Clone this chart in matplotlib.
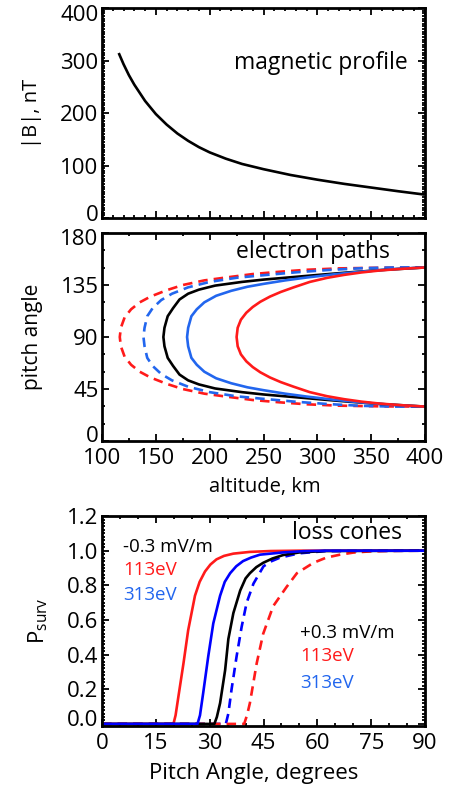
import matplotlib
matplotlib.use("Agg")
import matplotlib.pyplot as plt
import matplotlib.transforms as mtransforms
from matplotlib.ticker import AutoMinorLocator, FormatStrFormatter

plt.rcParams['font.family'] = ['Open Sans', 'DejaVu Sans']
plt.rcParams['mathtext.fontset'] = 'custom'
plt.rcParams['mathtext.rm'] = 'Open Sans'
plt.rcParams['mathtext.it'] = 'Open Sans'

# magnetic field profile
alt_b = [116, 120, 125, 130, 140, 150, 160, 170, 180, 190, 200, 215, 230, 250, 275, 300, 325, 350, 375, 398]
b_nt = [312, 293, 272, 254, 223, 198, 178, 161, 147, 135, 125, 113, 103, 93, 82, 73, 65, 58, 51, 45]

# electron paths: altitude (km) and pitch angle (deg), upper end -> mirror point -> lower end
path_red_dash_alt = [400, 360, 320, 290, 265, 240, 215, 195, 175, 160, 145, 135, 127, 121, 117.5, 116.5,
                     117.5, 121, 127, 135, 145, 160, 175, 195, 215, 240, 265, 290, 320, 360, 400]
path_red_dash_pa = [150.2, 150.0, 149.4, 148.2, 146.5, 144.5, 141.5, 139, 135, 130.5, 125, 120, 114, 107, 98, 90,
                    82, 73, 66, 60, 55, 49.5, 45, 41, 38.5, 35.5, 33.5, 31.8, 30.6, 30.0, 29.8]
path_blue_dash_alt = [400, 370, 340, 310, 280, 250, 225, 200, 180, 165, 155, 147, 142, 139.5, 138.5,
                      139.5, 142, 147, 155, 165, 180, 200, 225, 250, 280, 310, 340, 370, 400]
path_blue_dash_pa = [150.3, 150.2, 149.5, 148, 146, 143.5, 141.3, 137.7, 133, 127.5, 122, 115, 108, 98, 90,
                     82, 72, 65, 58, 52.5, 47, 42.3, 38.7, 36.5, 34, 32, 30.5, 29.8, 29.7]
path_black_alt = [400, 360, 330, 300, 275, 250, 230, 205, 190, 180, 172, 166, 161, 158, 157,
                  158, 161, 166, 172, 180, 190, 205, 230, 250, 275, 300, 330, 360, 400]
path_black_pa = [150.2, 148, 146, 143.7, 141.7, 139.7, 137.7, 134.5, 131, 127.5, 122.5, 115, 108, 98, 90,
                 82, 72, 65, 57.5, 52.5, 49, 45.5, 42.3, 40.3, 38.3, 36.3, 34, 32, 29.8]
path_blue_alt = [400, 370, 340, 315, 290, 270, 250, 235, 220, 206, 195, 188, 183, 180, 179,
                 180, 183, 188, 195, 206, 220, 235, 250, 270, 290, 315, 340, 370, 400]
path_blue_pa = [150.3, 148.8, 146.5, 144.2, 141.5, 139, 136, 133.5, 130, 125.7, 120, 114, 108, 98, 90,
                82, 72, 66, 60, 54.3, 50, 46.5, 44, 41, 38.5, 35.8, 33.5, 31.2, 29.7]
path_red_alt = [400, 378, 358, 341, 325, 309, 293, 278, 266, 256, 247, 240, 234, 229, 226, 225,
                226, 229, 234, 240, 247, 256, 266, 278, 293, 309, 325, 341, 358, 378, 400]
path_red_pa = [150.2, 149, 147.6, 145.9, 143.8, 141.2, 137.7, 133, 129, 125, 120.5, 116, 111, 105, 98, 90,
               82, 75, 69, 64, 59.5, 55, 51, 47, 42.3, 38.8, 36.2, 34.1, 32.4, 31, 29.8]

# survival probability vs pitch angle
pa_red = [0, 19.9, 20.5, 21.3, 22.7, 24.0, 25.9, 27.2, 28.7, 30.2, 31.9, 34, 36.6, 41.2, 47, 55, 90]
p_red = [0, 0, 0.05, 0.16, 0.35, 0.54, 0.74, 0.82, 0.88, 0.92, 0.95, 0.97, 0.983, 0.993, 0.998, 1, 1]
pa_blue = [0, 26.6, 27.3, 28.2, 29.6, 31.0, 32.9, 34.2, 35.7, 37.4, 39.3, 41.5, 44.0, 50.5, 56, 62, 90]
p_blue = [0, 0, 0.05, 0.18, 0.39, 0.58, 0.74, 0.82, 0.87, 0.91, 0.94, 0.96, 0.977, 0.99, 0.997, 1, 1]
pa_black = [0, 31.3, 32.0, 32.9, 34.3, 35.2, 36.6, 38.5, 40.0, 41.2, 43, 44.9, 47.5, 50.5, 55, 62, 90]
p_black = [0, 0, 0.04, 0.12, 0.31, 0.49, 0.64, 0.77, 0.84, 0.87, 0.905, 0.93, 0.955, 0.975, 0.99, 0.998, 1]
pa_blue_dash = [0, 34.5, 35.2, 36.1, 37.5, 38.9, 40.3, 42.2, 45.0, 47.3, 49.6, 55, 62, 90]
p_blue_dash = [0, 0, 0.06, 0.2, 0.39, 0.56, 0.70, 0.81, 0.91, 0.94, 0.96, 0.985, 0.997, 1]
pa_red_dash = [0, 39.6, 40.4, 41.2, 43.1, 44.9, 47.7, 51.4, 54.3, 58.9, 62.5, 66.3, 70, 74.7, 80, 90]
p_red_dash = [0, 0, 0.05, 0.12, 0.35, 0.52, 0.68, 0.79, 0.87, 0.93, 0.96, 0.977, 0.989, 0.996, 0.999, 1]

RED = '#ff1a1a'
BLUE_M = '#2266ee'
BLUE = '#0000ff'
LW = 1.9
DASH = (3.6, 2.3)
FS = 16
FS_NOTE = 16.5
FS_SMALL = 13.5


def style_axes(ax, xminor, yminor):
    ax.xaxis.set_minor_locator(AutoMinorLocator(xminor))
    ax.yaxis.set_minor_locator(AutoMinorLocator(yminor))
    ax.tick_params(which='both', direction='in', top=True, right=True, width=1.3, labelsize=FS, pad=2.5)
    ax.tick_params(axis='x', which='both', pad=5)
    ax.tick_params(which='major', length=5)
    ax.tick_params(which='minor', length=2.5)
    for s in ax.spines.values():
        s.set_linewidth(2)


def nudge_end_labels(fig, ax, top_dy, bottom_dy):
    # pull the outermost y labels in so stacked panels don't collide
    ticks = ax.yaxis.get_major_ticks()
    for tick, dy in ((ticks[-1], top_dy), (ticks[0], bottom_dy)):
        off = mtransforms.ScaledTranslation(0, dy / 100, fig.dpi_scale_trans)
        tick.label1.set_transform(tick.label1.get_transform() + off)


fig = plt.figure(figsize=(4.49, 7.87), dpi=100)

ax1 = fig.add_axes([0.2272, 0.723, 0.7194, 0.2668])
ax1.plot(alt_b, b_nt, color='black', lw=LW)
ax1.set_xlim(100, 400)
ax1.set_ylim(0, 400)
ax1.set_xticks([100, 150, 200, 250, 300, 350, 400])
ax1.set_yticks([0, 100, 200, 300, 400])
style_axes(ax1, 5, 20)
ax1.set_xticklabels([])
ax1.set_ylabel('|B|, nT', fontsize=14.5)
ax1.yaxis.set_label_coords(-0.186, 0.5)
nudge_end_labels(fig, ax1, -5, 5)
ax1.text(0.947, 0.738, 'magnetic profile', transform=ax1.transAxes, ha='right', va='center', fontsize=FS_NOTE)

ax2 = fig.add_axes([0.2272, 0.4396, 0.7194, 0.2643])
ax2.plot(path_red_dash_alt, path_red_dash_pa, color=RED, lw=LW, dashes=DASH)
ax2.plot(path_blue_dash_alt, path_blue_dash_pa, color=BLUE_M, lw=LW, dashes=DASH)
ax2.plot(path_black_alt, path_black_pa, color='black', lw=LW)
ax2.plot(path_blue_alt, path_blue_pa, color=BLUE_M, lw=LW)
ax2.plot(path_red_alt, path_red_pa, color=RED, lw=LW)
ax2.set_xlim(100, 400)
ax2.set_ylim(0, 180)
ax2.set_xticks([100, 150, 200, 250, 300, 350, 400])
ax2.set_yticks([0, 45, 90, 135, 180])
style_axes(ax2, 2, 3)
ax2.set_xlabel('altitude, km', fontsize=14.5)
ax2.xaxis.set_label_coords(0.505, -0.172)
ax2.set_ylabel('pitch angle', fontsize=15)
ax2.yaxis.set_label_coords(-0.183, 0.5)
nudge_end_labels(fig, ax2, -4, 7)
ax2.text(0.892, 0.909, 'electron paths', transform=ax2.transAxes, ha='right', va='center', fontsize=FS_NOTE)

ax3 = fig.add_axes([0.2272, 0.0775, 0.7194, 0.2668])
ax3.plot(pa_red, p_red, color=RED, lw=LW)
ax3.plot(pa_blue_dash, p_blue_dash, color=BLUE, lw=LW, dashes=DASH)
ax3.plot(pa_red_dash, p_red_dash, color=RED, lw=LW, dashes=DASH)
ax3.plot(pa_black, p_black, color='black', lw=LW)
ax3.plot(pa_blue, p_blue, color=BLUE, lw=LW)
ax3.set_xlim(0, 90)
ax3.set_ylim(-0.012, 1.2)
ax3.set_xticks([0, 15, 30, 45, 60, 75, 90])
ax3.set_yticks([0, 0.2, 0.4, 0.6, 0.8, 1.0, 1.2])
ax3.yaxis.set_major_formatter(FormatStrFormatter('%.1f'))
style_axes(ax3, 3, 10)
ax3.set_xlabel('Pitch Angle, degrees', fontsize=FS)
ax3.xaxis.set_label_coords(0.47, -0.175)
ax3.set_ylabel(r'P$_{\rm surv}$', fontsize=FS)
ax3.yaxis.set_label_coords(-0.161, 0.5)
nudge_end_labels(fig, ax3, 0, 6)
ax3.text(0.929, 0.919, 'loss cones', transform=ax3.transAxes, ha='right', va='center', fontsize=FS_NOTE)

ax3.text(0.065, 0.853, '-0.3 mV/m', transform=ax3.transAxes, fontsize=FS_SMALL, color='black', va='center')
ax3.text(0.065, 0.743, '113eV', transform=ax3.transAxes, fontsize=FS_SMALL, color=RED, va='center')
ax3.text(0.065, 0.624, '313eV', transform=ax3.transAxes, fontsize=FS_SMALL, color=BLUE_M, va='center')
ax3.text(0.613, 0.443, '+0.3 mV/m', transform=ax3.transAxes, fontsize=FS_SMALL, color='black', va='center')
ax3.text(0.613, 0.335, '113eV', transform=ax3.transAxes, fontsize=FS_SMALL, color=RED, va='center')
ax3.text(0.613, 0.206, '313eV', transform=ax3.transAxes, fontsize=FS_SMALL, color=BLUE_M, va='center')

fig.savefig('out.png', dpi=100)
